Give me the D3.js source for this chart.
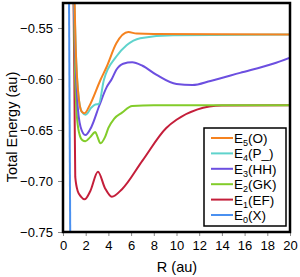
<!DOCTYPE html>
<html>
<head>
<meta charset="utf-8">
<script src="https://cdnjs.cloudflare.com/ajax/libs/d3/7.8.5/d3.min.js"></script>
<style>
  html, body { margin: 0; padding: 0; background: #fff; }
  svg { display: block; font-family: "Liberation Sans", Arial, sans-serif; }
</style>
</head>
<body>
<svg id="chart"></svg>
<script>
/* data: R (au), total energy (au) */
var e0R = [0.53, 0.64];
var e0E = [-0.52, -0.76];

var e1R = [0.93, 1.0, 1.08, 1.3, 1.6, 1.9, 2.4, 3.08, 3.7, 4.3, 5.2, 7.0, 9.1, 10.0, 11.8, 14.0, 20.0];
var e1E = [-0.525, -0.60, -0.696, -0.710, -0.7155, -0.718, -0.710, -0.691, -0.707, -0.7154, -0.708, -0.680, -0.648, -0.640, -0.630, -0.626, -0.6258];

var e2R = [0.95, 1.05, 1.25, 1.5, 1.7, 1.97, 2.4, 2.85, 3.05, 3.3, 3.7, 4.0, 4.5, 5.2, 6.1, 8.0, 20.0];
var e2E = [-0.525, -0.59, -0.64, -0.656, -0.660, -0.661, -0.657, -0.652, -0.657, -0.663, -0.657, -0.648, -0.639, -0.633, -0.6265, -0.6257, -0.6257];

var e3R = [0.97, 1.1, 1.25, 1.55, 1.97, 2.5, 3.2, 3.85, 4.3, 4.7, 5.3, 6.1, 7.0, 8.25, 10.0, 11.4, 13.0, 15.6, 18.5, 20.0];
var e3E = [-0.525, -0.58, -0.62, -0.647, -0.655, -0.647, -0.626, -0.608, -0.600, -0.591, -0.585, -0.5836, -0.587, -0.596, -0.605, -0.606, -0.602, -0.594, -0.585, -0.579];

var e4R = [1.0, 1.12, 1.35, 1.65, 2.0, 2.5, 2.85, 3.15, 3.6, 4.7, 5.6, 6.8, 9.7, 20.0];
var e4E = [-0.525, -0.57, -0.615, -0.632, -0.635, -0.628, -0.625, -0.6245, -0.601, -0.578, -0.567, -0.560, -0.557, -0.5565];

var e5R = [1.02, 1.12, 1.4, 1.65, 1.91, 2.3, 3.3, 3.85, 4.7, 5.75, 6.5, 8.0, 20.0];
var e5E = [-0.525, -0.57, -0.62, -0.632, -0.6336, -0.627, -0.601, -0.588, -0.565, -0.554, -0.5555, -0.556, -0.5565];

var seriesNames = ["E5(O)", "E4(P_)", "E3(HH)", "E2(GK)", "E1(EF)", "E0(X)"];
var seriesColors = ["#f5821f", "#5fd3cc", "#6c4fe0", "#82cc2a", "#c41e3a", "#4a90f0"];
var xTicks = [0, 2, 4, 6, 8, 10, 12, 14, 16, 18, 20];
var yTicks = [-0.75, -0.70, -0.65, -0.60, -0.55];

function zip(r, e) { return r.map(function (d, i) { return { r: d, e: e[i] }; }); }

var series = [
  { name: seriesNames[0], color: seriesColors[0], pts: zip(e5R, e5E) },
  { name: seriesNames[1], color: seriesColors[1], pts: zip(e4R, e4E) },
  { name: seriesNames[2], color: seriesColors[2], pts: zip(e3R, e3E) },
  { name: seriesNames[3], color: seriesColors[3], pts: zip(e2R, e2E) },
  { name: seriesNames[4], color: seriesColors[4], pts: zip(e1R, e1E) },
  { name: seriesNames[5], color: seriesColors[5], pts: zip(e0R, e0E) }
];

var width = 300, height = 277,
    margin = { top: 3, right: 10, bottom: 45, left: 63 };
var innerWidth = width - margin.left - margin.right,
    innerHeight = height - margin.top - margin.bottom;

var svg = d3.select("#chart")
  .attr("width", width).attr("height", height)
  .attr("viewBox", "0 0 " + width + " " + height);
var g = svg.append("g").attr("transform", "translate(" + margin.left + "," + margin.top + ")");

var xScale = d3.scaleLinear().domain([0, 20]).range([0, 227]);
var yScale = d3.scaleLinear().domain([-0.75, -0.5255]).range([innerHeight, 0]);

g.append("clipPath").attr("id", "plotclip")
  .append("rect").attr("width", 227).attr("height", innerHeight);

/* axes */
var xAxis = d3.axisBottom(xScale).tickValues(xTicks).tickSize(4).tickPadding(5).tickFormat(d3.format("d"));
var yAxis = d3.axisLeft(yScale).tickValues(yTicks).tickSize(5).tickPadding(5).tickFormat(d3.format(".2f"));

g.append("g").attr("transform", "translate(0," + innerHeight + ")").call(xAxis)
  .call(styleAxis);
g.append("g").call(yAxis)
  .call(styleAxis);

function styleAxis(s) {
  s.attr("font-family", null).attr("font-size", 13);
  s.select(".domain").remove();
  s.selectAll(".tick line").attr("stroke", "#888");
  s.selectAll(".tick text").attr("fill", "#000");
}

/* curves */
var line = d3.line()
  .x(function (d) { return xScale(d.r); })
  .y(function (d) { return yScale(d.e); })
  .curve(d3.curveMonotoneX);

g.append("g").attr("clip-path", "url(#plotclip)")
  .selectAll("path")
  .data(series.slice().reverse())
  .enter().append("path")
    .attr("d", function (d) { return line(d.pts); })
    .attr("fill", "none")
    .attr("stroke", function (d) { return d.color; })
    .attr("stroke-width", 2);

/* frame */
g.append("rect")
  .attr("width", 227).attr("height", innerHeight)
  .attr("fill", "none").attr("stroke", "#000").attr("stroke-width", 2.5);

/* axis titles */
svg.append("text")
  .attr("transform", "translate(16.5," + 127 + ") rotate(-90)")
  .attr("text-anchor", "middle")
  .attr("font-size", 14.5)
  .text("Total Energy (au)");

svg.append("text")
  .attr("x", 177).attr("y", 272)
  .attr("text-anchor", "middle")
  .attr("font-size", 14.5)
  .text("R (au)");

/* legend */
var legend = svg.append("g").attr("transform", "translate(204,128)");
legend.append("rect")
  .attr("width", 82).attr("height", 98)
  .attr("fill", "#fff").attr("stroke", "#000").attr("stroke-width", 1.5);

var item = legend.selectAll(".item")
  .data(series)
  .enter().append("g")
    .attr("class", "item")
    .attr("transform", function (d, i) { return "translate(0," + (10 + i * 15.4) + ")"; });

item.append("line")
  .attr("x1", 7).attr("x2", 29)
  .attr("stroke", function (d) { return d.color; })
  .attr("stroke-width", 2);

var txt = item.append("text")
  .attr("x", 30).attr("y", 5)
  .attr("font-size", 13.5);
txt.append("tspan").text("E");
txt.append("tspan").attr("dy", 3).attr("font-size", 9).text(function (d) { return d.name.charAt(1); });
txt.append("tspan").attr("dy", -3).text(function (d) { return d.name.slice(2); });
</script>
</body>
</html>
